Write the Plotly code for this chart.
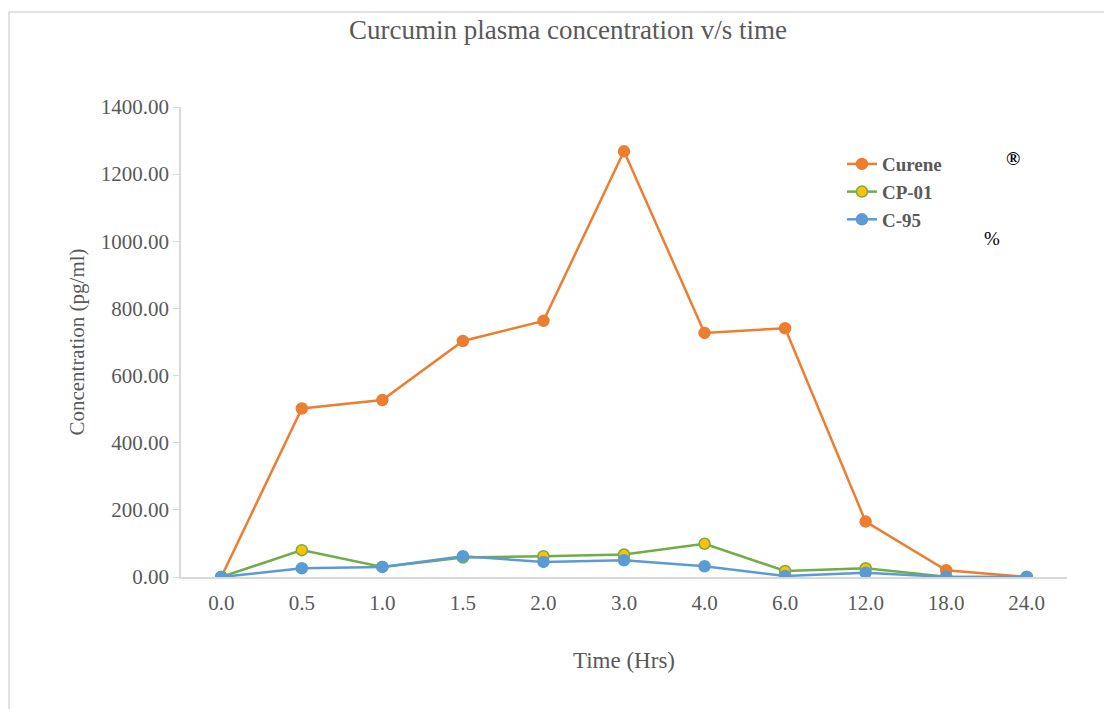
import plotly.graph_objects as go

time_labels = ["0.0", "0.5", "1.0", "1.5", "2.0", "3.0", "4.0", "6.0", "12.0", "18.0", "24.0"]
curene = [0, 502, 527, 703, 763, 1268, 727, 741, 165, 20, 0]
cp01 = [0, 80, 30, 58, 62, 67, 99, 18, 26, 1, 0]
c95 = [0, 26, 30, 62, 45, 50, 32, 3, 13, 0, 0]

series = [
    ("Curene", curene, "#ED7D31", "#ED7D31", "#ED7D31"),
    ("CP-01", cp01, "#70AD47", "#FFC000", "#70AD47"),
    ("C-95", c95, "#5B9BD5", "#5B9BD5", "#5B9BD5"),
]

FONT = "Liberation Serif, Times New Roman, serif"
GRAY = "#595959"

fig = go.Figure()
for name, vals, lc, mfill, mline in series:
    fig.add_trace(go.Scatter(
        x=list(range(len(time_labels))), y=vals, name=name, mode="lines+markers",
        line=dict(color=lc, width=2.5),
        marker=dict(symbol="circle", size=11, color=mfill, line=dict(color=mline, width=1.5)),
    ))

fig.update_layout(
    width=1112, height=709,
    paper_bgcolor="white", plot_bgcolor="white",
    margin=dict(l=173, r=53, t=99, b=140),
    title=dict(text="Curcumin plasma concentration v/s time", x=0.5036, xanchor="center",
               y=0.969, yanchor="middle", font=dict(family=FONT, size=27, color=GRAY)),
    font=dict(family=FONT, color=GRAY, size=21),
    showlegend=True,
    legend=dict(x=0.746, y=0.919, xanchor="left", yanchor="top", bgcolor="rgba(0,0,0,0)",
                font=dict(family=FONT, size=19, color=GRAY, weight="bold"),
                itemwidth=30, tracegroupgap=0),
    xaxis=dict(
        range=[-0.5, 10.5], tickmode="array", tickvals=list(range(len(time_labels))),
        ticktext=time_labels, showgrid=False, zeroline=False,
        showline=True, linecolor="#D9D9D9", linewidth=1.5,
        ticks="", ticklabelstandoff=6, tickfont=dict(family=FONT, size=21, color=GRAY),
        title=dict(text="Time (Hrs)", font=dict(family=FONT, size=23, color=GRAY), standoff=38),
    ),
    yaxis=dict(
        range=[0, 1400], tickmode="array", tickvals=[0, 200, 400, 600, 800, 1000, 1200, 1400],
        tickformat=".2f", showgrid=False, zeroline=False,
        showline=True, linecolor="#D9D9D9", linewidth=1.5,
        ticks="outside", ticklen=6, tickcolor="#D9D9D9",
        tickfont=dict(family=FONT, size=21, color=GRAY),
        title=dict(text="Concentration (pg/ml)", font=dict(family=FONT, size=21, color=GRAY), standoff=10),
    ),
)

fig.add_shape(type="rect", xref="paper", yref="paper",
              x0=(1 - 173) / 886, x1=1.2, y0=-0.5, y1=1.202,
              line=dict(color="#D9D9D9", width=1.5), fillcolor="rgba(0,0,0,0)", layer="below")

fig.add_annotation(text="®", xref="paper", yref="paper", x=(1013 - 181) / 886, y=(577 - 158) / 470,
                   xanchor="center", yanchor="middle",
                   showarrow=False, font=dict(family=FONT, size=19, color="black", weight="bold"))
fig.add_annotation(text="%", xref="paper", yref="paper", x=(992 - 181) / 886, y=(577 - 238) / 470,
                   xanchor="center", yanchor="middle",
                   showarrow=False, font=dict(family=FONT, size=19, color="black"))

fig.write_html("out.html")
